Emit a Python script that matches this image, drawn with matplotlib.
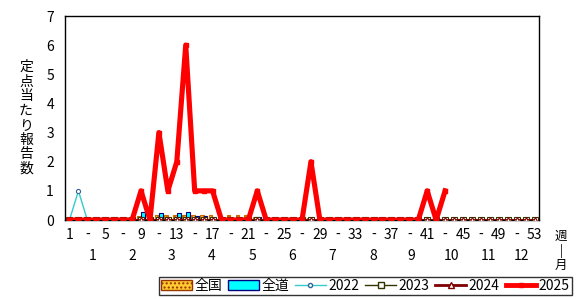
import numpy as np
import matplotlib.pyplot as plt
from matplotlib.patches import Patch
from matplotlib.lines import Line2D
import matplotlib.transforms as mtransforms

plt.rcParams['font.family'] = ['Noto Sans CJK JP', 'DejaVu Sans']

weeks = np.arange(1, 54)

# 2025 (data up to week 43)
y2025 = [0, 0, 0, 0, 0, 0, 0, 0, 1, 0, 3, 1, 2, 6, 1, 1, 1, 0, 0, 0,
         0, 1, 0, 0, 0, 0, 0, 2, 0, 0, 0, 0, 0, 0, 0, 0, 0, 0, 0, 0,
         1, 0, 1]
y2022 = [0, 1] + [0] * 51
y2023 = [0] * 53
y2024 = [0] * 53

zenkoku = {9: 0.15, 10: 0.05, 11: 0.16, 12: 0.17, 13: 0.18, 14: 0.18, 15: 0.18,
           16: 0.17, 17: 0.16, 18: 0.1, 19: 0.17, 20: 0.17, 21: 0.17, 22: 0.12,
           23: 0.05, 28: 0.06, 41: 0.03}
zendo = {3: 0.05, 9: 0.27, 11: 0.23, 12: 0.05, 13: 0.23, 14: 0.27, 15: 0.15,
         16: 0.15, 17: 0.05, 22: 0.1, 28: 0.05, 41: 0.04}
zenkoku_vals = [zenkoku.get(w, 0.02) for w in weeks]
zendo_vals = [zendo.get(w, 0.02) for w in weeks]

tick_weeks = list(range(1, 54, 2))
tick_labels = [str(w) if i % 2 == 0 else '-' for i, w in enumerate(tick_weeks)]
month_labels = [str(m) for m in range(1, 13)]
month_pos = [3.6, 8.0, 12.4, 16.9, 21.5, 25.9, 30.4, 35.0, 39.2, 43.7, 47.9, 51.5]

fig = plt.figure(figsize=(5.79, 2.99), dpi=100)
ax = fig.add_axes([65 / 579, 1 - 220 / 299, 474 / 579, 204 / 299])

bw = 0.42
ax.bar(weeks - 0.22, zenkoku_vals, width=bw, color='#FFCC33', edgecolor='#CC6600',
       hatch='....', linewidth=0.8, zorder=2)
ax.bar(weeks + 0.22, zendo_vals, width=bw, color='#00FFFF', edgecolor='#000080',
       linewidth=0.8, zorder=2)

ax.plot(weeks, y2022, color='#33CCCC', lw=1, marker='o', ms=3,
        mfc='white', mec='#336699', mew=0.8, zorder=3)
ax.plot(weeks, y2023, color='#333300', lw=1, marker='s', ms=4,
        mfc='white', mec='#333300', mew=0.8, zorder=3)
ax.plot(weeks, y2024, color='#800000', lw=2, marker='^', ms=4.5,
        mfc='white', mec='#800000', mew=0.8, zorder=4)
ax.plot(weeks[:len(y2025)], y2025, color='#FF0000', lw=3.7, marker='s', ms=3.5,
        mfc='#FF0000', mec='#FF0000', zorder=5)

ax.set_xlim(0.5, 53.5)
ax.set_ylim(0, 7)
ax.set_yticks(range(0, 8))
ax.set_xticks(tick_weeks)
ax.set_xticklabels(tick_labels)
ax.tick_params(length=0, labelsize=10, colors='black')
ax.tick_params(axis='x', pad=6)
ax.tick_params(axis='y', pad=8)
for s in ax.spines.values():
    s.set_color('black')
    s.set_linewidth(1)

trans = mtransforms.blended_transform_factory(ax.transData, fig.transFigure)
for p, lab in zip(month_pos, month_labels):
    ax.text(p, 1 - 256 / 299, lab, transform=trans, ha='center', va='center', fontsize=10)

fig.text(26 / 579, 1 - 118 / 299, '\n'.join('定点当たり報告数'), ha='center', va='center',
         fontsize=10, linespacing=1.05)
fig.text(561 / 579, 1 - 251 / 299, '週\n|\n月', ha='center', va='center',
         fontsize=9, linespacing=1.1)

handles = [
    Patch(facecolor='#FFCC33', edgecolor='#993300', hatch='....', label='全国'),
    Patch(facecolor='#00FFFF', edgecolor='#000080', label='全道'),
    Line2D([], [], color='#33CCCC', lw=1, marker='o', ms=3, mfc='white', mec='#336699', label='2022'),
    Line2D([], [], color='#333300', lw=1, marker='s', ms=4, mfc='white', mec='#333300', label='2023'),
    Line2D([], [], color='#800000', lw=2, marker='^', ms=4.5, mfc='white', mec='#800000', label='2024'),
    Line2D([], [], color='#FF0000', lw=3.5, marker='s', ms=3.5, mfc='#FF0000', label='2025'),
]
leg = fig.legend(handles=handles, ncol=6, loc='lower left',
                 bbox_to_anchor=(159 / 579, 4 / 299, 413 / 579, 17 / 299), mode='expand',
                 fontsize=10, frameon=True, fancybox=False, edgecolor='black',
                 handlelength=2.2, handletextpad=0.2, columnspacing=0.8,
                 borderpad=0.15, borderaxespad=0)
leg.get_frame().set_linewidth(1)

fig.savefig('out.png', dpi=100)
